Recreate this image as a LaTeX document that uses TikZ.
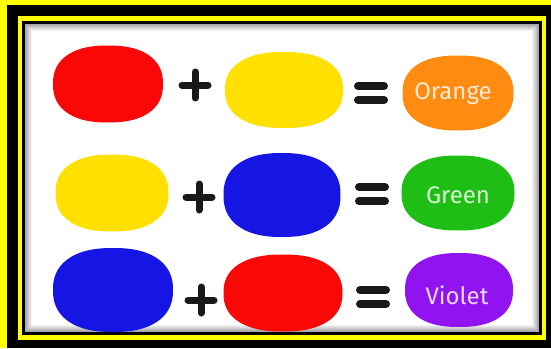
\documentclass[tikz,border=0pt]{standalone}
\usepackage{fontspec}
\setsansfont{Fira Sans}
\usepackage{tikz}

\definecolor{paintred}{RGB}{250,8,8}
\definecolor{paintyellow}{RGB}{255,224,0}
\definecolor{paintblue}{RGB}{22,22,228}
\definecolor{paintorange}{RGB}{255,140,16}
\definecolor{paintgreen}{RGB}{30,190,20}
\definecolor{paintviolet}{RGB}{145,20,240}
\definecolor{framey}{RGB}{255,255,0}

\tikzset{
  sign/.style={line width=7pt, line cap=round, black!90},
  label/.style={font=\sffamily\fontsize{24}{24}\selectfont}
}

\begin{document}
\begin{tikzpicture}[x=1pt,y=-1pt]

% Black background and outer frame
\fill[black] (0,0) rectangle (551,348);
\useasboundingbox (0,0) rectangle (551,348);
\fill[framey] (0,0) rectangle (551,5);
\fill[framey] (0,0) rectangle (7,348);

% Inner yellow frame
\fill[framey] (18,16) rectangle (546,340);
\fill[black] (22,21) rectangle (541.5,334.5);

% White paper with a soft grey edge
\fill[white] (25,24) rectangle (539,332);
\foreach \i in {0,...,7} {
  \pgfmathtruncatemacro{\shade}{35-5*\i}
  \draw[black!\shade, line width=1pt] (25.5+\i,24.5+\i) rectangle (538.5-\i,331.5-\i);
}

% Paint blobs (name/x/y/half width/half height/colour)
\foreach \name/\cx/\cy/\rx/\ry/\col in {
    red1/108/84/55/38.5/paintred, yellow1/284/90/59/38/paintyellow, orange/458/93/55.5/37.5/paintorange,
    yellow2/112/193/56.5/38.5/paintyellow, blue2/282/195/58.5/42/paintblue, green/458/193/56.5/37.5/paintgreen,
    blue3/113/290/60/42/paintblue, red3/283/293/59.5/38.5/paintred, violet/459/290/54/37/paintviolet} {
  \coordinate (\name) at (\cx,\cy);
  \fill[\col] plot[variable=\t, domain=0:355, samples=72, smooth cycle]
    ({\cx+\rx*sign(cos(\t))*abs(cos(\t))^0.85}, {\cy+\ry*sign(sin(\t))*abs(sin(\t))^0.85});
}

% Colour names
\node[label, text=white!82!paintorange] (orangetext) at ([xshift=-5pt,yshift=-1pt]orange) {Orange};
\node[label, text=white!82!paintgreen] (greentext) at ([yshift=-2pt]green) {Green};
\node[label, text=white!82!paintviolet] (violettext) at ([xshift=-2pt,yshift=-5pt]violet) {Violet};

% Plus signs
\foreach \x/\y in {195/85, 199/197, 201/300} {
  \draw[sign] (\x-13,\y) -- (\x+13,\y);
  \draw[sign] (\x,\y-13) -- (\x,\y+13);
}

% Equals signs
\foreach \x/\y in {371/93, 372/194, 373/297} {
  \draw[sign, line width=8pt] (\x-13,\y-7) -- (\x+13,\y-7);
  \draw[sign, line width=8pt] (\x-13,\y+7) -- (\x+13,\y+7);
}

\end{tikzpicture}
\end{document}
